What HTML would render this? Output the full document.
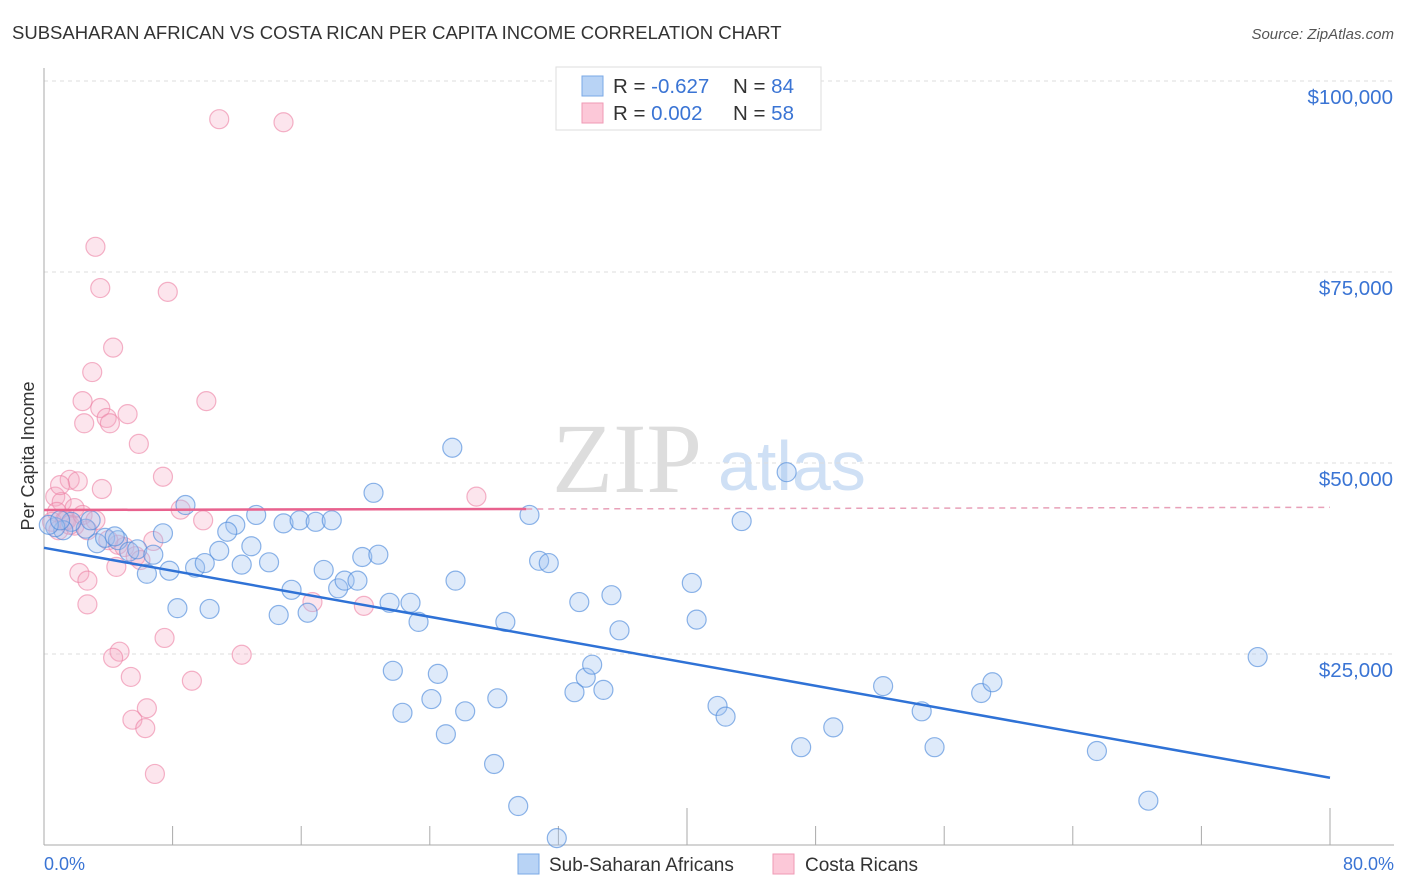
<!DOCTYPE html>
<html><head><meta charset="utf-8"><style>
body{margin:0;background:#fff;font-family:"Liberation Sans",sans-serif;}
#wrap{position:relative;width:1406px;height:892px;overflow:hidden;}
</style></head><body>
<div id="wrap">
<svg id="chart" width="1406" height="892">
<text x="12" y="39" font-size="18.5" fill="#333">SUBSAHARAN AFRICAN VS COSTA RICAN PER CAPITA INCOME CORRELATION CHART</text>
<text x="1394" y="39" font-size="15" fill="#555" font-style="italic" text-anchor="end">Source: ZipAtlas.com</text>
<text x="552" y="492" font-size="100" fill="#ddd" font-family="Liberation Serif,serif">ZIP</text>
<text x="718" y="490" font-size="70" fill="#cfe0f5">atlas</text>
<g id="grid"></g><g id="axes"></g><g id="pts"></g><g id="lines"></g>
<text transform="translate(34,456) rotate(-90)" font-size="18" fill="#333" text-anchor="middle">Per Capita Income</text>
<g>
<rect x="556" y="67" width="265" height="63" fill="#fff" stroke="#ddd"/>
<rect x="582" y="76" width="21" height="20" fill="#b8d3f5" stroke="#7aa8e6"/>
<rect x="582" y="103" width="21" height="20" fill="#fcc8d8" stroke="#ef9ab5"/>
<text x="613" y="93" font-size="20.5" fill="#333">R = <tspan fill="#3a74d4">-0.627</tspan></text>
<text x="733" y="93" font-size="20.5" fill="#333">N = <tspan fill="#3a74d4">84</tspan></text>
<text x="613" y="120" font-size="20.5" fill="#333">R = <tspan fill="#3a74d4"> 0.002</tspan></text>
<text x="733" y="120" font-size="20.5" fill="#333">N = <tspan fill="#3a74d4">58</tspan></text>
</g>
<g>
<rect x="518" y="854" width="21" height="20" fill="#b8d3f5" stroke="#7aa8e6"/>
<text x="549" y="871" font-size="19" fill="#333">Sub-Saharan Africans</text>
<rect x="773" y="854" width="21" height="20" fill="#fcc8d8" stroke="#ef9ab5"/>
<text x="805" y="871" font-size="19" fill="#333">Costa Ricans</text>
</g>
<text x="44" y="870" font-size="18" fill="#3a74d4">0.0%</text>
<text x="1394" y="870" font-size="18" fill="#3a74d4" text-anchor="end">80.0%</text>
</svg>
</div>
<script>
const yTicks=[25000,50000,75000,100000];
const yTickLabels=["$25,000","$50,000","$75,000","$100,000"];
const xTicks=[0,8,16,24,32,40,48,56,64,72,80];
const blueX=[46.2,25.4,43.4,30.2,20.5,8.8,13.2,11.9,14.9,15.9,16.9,17.9,10.9,12.9,7.4,11.4,6.4,7.8,8.3,9.4,10.0,10.3,12.3,14.0,15.4,14.6,16.4,17.4,18.3,18.7,19.5,19.8,20.8,21.5,22.8,23.3,25.6,28.7,30.8,31.4,33.3,35.3,35.8,40.3,40.6,21.7,22.3,24.1,24.5,25.0,26.2,28.0,28.2,29.5,31.9,33.0,33.7,34.1,34.8,41.9,42.4,47.1,49.1,52.2,54.6,55.4,58.3,59.0,65.5,68.7,75.5,3.3,3.8,4.6,5.3,5.8,6.8,2.6,1.7,1.2,0.7,0.3,1.0,2.9,4.4];
const blueY=[48.8,52.0,42.4,43.2,46.1,44.5,43.2,41.9,42.1,42.5,42.3,42.5,38.5,39.1,40.8,41.0,35.5,35.9,31.0,36.3,36.9,30.9,36.7,37.0,33.4,30.1,30.4,36.0,33.6,34.6,34.6,37.7,38.0,31.7,31.7,29.2,34.6,29.2,37.2,36.9,31.8,32.7,28.1,34.3,29.5,22.8,17.3,19.1,22.4,14.5,17.5,10.6,19.2,5.1,0.9,20.0,21.9,23.6,20.3,18.2,16.8,12.8,15.4,20.8,17.5,12.8,19.9,21.3,12.3,5.8,24.6,39.5,40.2,39.9,38.4,38.7,38.0,41.4,42.3,41.2,41.6,41.9,42.5,42.5,40.4];
const pinkX=[10.9,14.9,3.2,7.7,3.5,4.3,3.0,10.1,2.4,3.5,5.2,3.9,4.1,2.5,5.9,7.4,1.6,2.1,3.6,26.9,8.5,9.9,0.7,1.1,1.9,0.8,0.5,1.3,1.9,2.7,4.6,5.0,5.7,4.5,6.8,2.2,2.7,2.7,16.7,19.9,7.5,12.3,4.7,4.3,5.4,9.2,6.4,5.5,6.3,6.9,1.4,0.9,1.6,2.4,3.2,4.0,6.0,1.0];
const pinkY=[95.0,94.6,78.3,72.4,72.9,65.1,61.9,58.1,58.1,57.2,56.4,55.9,55.2,55.2,52.5,48.2,47.8,47.6,46.6,45.6,43.9,42.5,45.6,44.9,44.1,43.6,42.3,42.5,41.8,41.2,39.3,39.0,37.8,36.4,39.8,35.6,34.6,31.5,31.8,31.3,27.1,24.9,25.3,24.5,22.0,21.5,17.9,16.4,15.3,9.3,42.5,41.2,41.9,43.2,42.5,39.9,37.3,47.1];
const blueTrend=[38900,8800];
const pinkTrend=[43850,44200];
const pinkSolidEnd=30;
const NS="http://www.w3.org/2000/svg";
function xs(p){return 44+p*1286/80;}
function ys(v){return 845-v*191/25000;}
function mk(tag,attrs,parent){const e=document.createElementNS(NS,tag);for(const k in attrs)e.setAttribute(k,attrs[k]);parent.appendChild(e);return e;}
const grid=document.getElementById('grid'),axes=document.getElementById('axes'),pts=document.getElementById('pts'),lines=document.getElementById('lines');
yTicks.forEach((v,i)=>{
 const l=mk('line',{x1:44,x2:1394,y1:ys(v),y2:ys(v),stroke:'#ddd','stroke-dasharray':'4,4'},grid);
 
 
 const t=mk('text',{x:1393,y:ys(v)+23,'font-size':20.5,fill:'#3a74d4','text-anchor':'end'},grid);
 t.textContent=yTickLabels[i];
 
 
});
const ya=mk('line',{x1:44,x2:44,y1:68,y2:845,stroke:'#aaa'},axes);


const xa=mk('line',{x1:44,x2:1394,y1:845,y2:845,stroke:'#aaa'},axes);


xTicks.forEach(p=>{
 const major=(p===40||p===80);
 const t=mk('line',{x1:xs(p),x2:xs(p),y1:major?808:826,y2:845,stroke:'#aaa'},axes);
 
 
});
pinkX.forEach((p,i)=>{
 const c=mk('circle',{cx:xs(p),cy:ys(pinkY[i]*1000),r:9.5,fill:'rgba(246,168,194,0.3)',stroke:'rgba(236,128,164,0.6)','stroke-width':1.2},pts);
 
 
});
blueX.forEach((p,i)=>{
 const c=mk('circle',{cx:xs(p),cy:ys(blueY[i]*1000),r:9.5,fill:'rgba(160,196,240,0.35)',stroke:'rgba(80,140,220,0.65)','stroke-width':1.2},pts);
 
 
});
const bl=mk('line',{x1:xs(0),y1:ys(blueTrend[0]),x2:xs(80),y2:ys(blueTrend[1]),stroke:'#2f72d6','stroke-width':2.5},lines);


const pyMid=pinkTrend[0]+(pinkTrend[1]-pinkTrend[0])*pinkSolidEnd/80;
const pl=mk('line',{x1:xs(0),y1:ys(pinkTrend[0]),x2:xs(pinkSolidEnd),y2:ys(pyMid),stroke:'#e8628e','stroke-width':2.5},lines);


const pd=mk('line',{x1:xs(pinkSolidEnd),y1:ys(pyMid),x2:xs(80),y2:ys(pinkTrend[1]),stroke:'#e8a0b8','stroke-width':1.5,'stroke-dasharray':'6,5'},lines);


</script>
</body></html>
